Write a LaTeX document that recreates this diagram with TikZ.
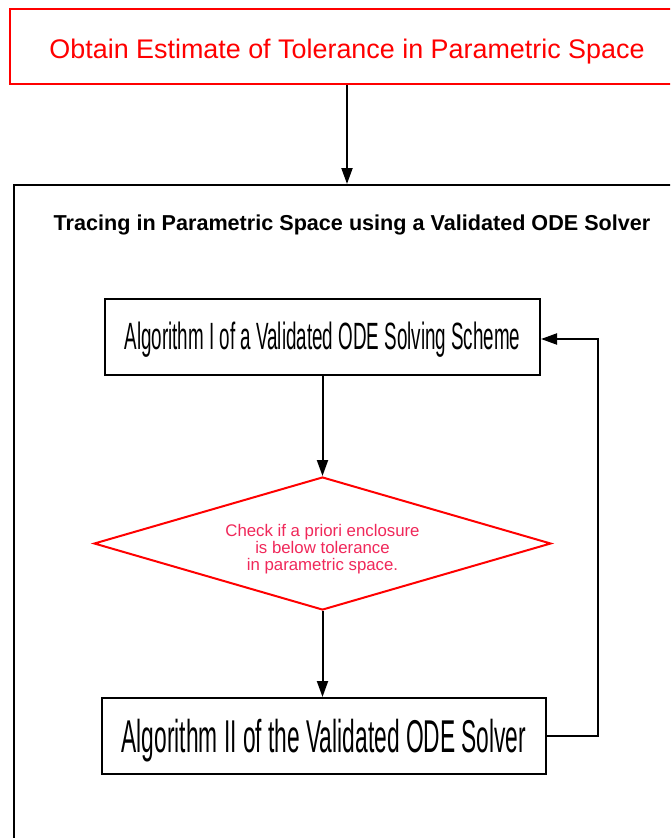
\documentclass[tikz,border=0pt]{standalone}
\usepackage{fontspec}
\setmainfont{Liberation Sans}
\newfontfamily\narrowfont[FakeStretch=0.495]{Liberation Sans}
\usetikzlibrary{
  arrows.meta,
  positioning,
  shapes.geometric
}
\definecolor{checkred}{RGB}{240,40,90}
\tikzset{
  >={Triangle[length=16pt,width=11pt]},
  flow/.style = {->, line width=2pt},
  taskbox/.style = {draw, rectangle, line width=2pt, inner sep=0pt},
  checkdiamond/.style = {draw=red, diamond, line width=2pt, inner sep=0pt,
                         aspect=3.4, text=checkred, align=center,
                         font=\fontsize{16.8}{16}\selectfont},
}
\newcommand{\lowtext}[2]{\raisebox{#1}[0pt][0pt]{\begin{tabular}{@{}c@{}}#2\end{tabular}}}

\begin{document}
\begin{tikzpicture}[x=1pt, y=-1pt]
\useasboundingbox (0,0) rectangle (670,838);
\fill[white] (0,0) rectangle (670,838);
\clip (0,0) rectangle (670,838);
% outer part
\node[taskbox, draw=red, text=red, minimum width=674pt, minimum height=75pt,
      font=\fontsize{26.9}{28}\selectfont] (estimate) at (347,46.5)
      {\lowtext{-12.7pt}{Obtain Estimate of Tolerance in Parametric Space}};
\node[taskbox, anchor=north west, minimum width=720pt, minimum height=720pt]
      (tracing) at (13,184) {};
\node[font=\bfseries\fontsize{21.6}{24}\selectfont] (title) at (352,225)
      {Tracing in Parametric Space using a Validated ODE Solver};
% the solver loop
\node[taskbox, minimum width=435pt, minimum height=76pt,
      font=\narrowfont\fontsize{38}{40}\selectfont] (algoI) at (322.5,337)
      {\lowtext{-10.5pt}{Algorithm I of a Validated ODE Solving Scheme}};
\node[checkdiamond, minimum width=457pt, minimum height=133pt] (check) at (322.5,543.5)
      {\lowtext{-11pt}{Check if a priori enclosure\\is below tolerance\\in parametric space.}};
\node[taskbox, minimum width=444pt, minimum height=76pt,
      font=\narrowfont\fontsize{46}{48}\selectfont] (algoII) at (324,736)
      {\lowtext{-13pt}{Algorithm II of the Validated ODE Solver}};

\draw[flow] (estimate.south) -- (estimate.south |- tracing.north);
\draw[flow] (algoI.south) -- (check.north);
\draw[flow] (check.south) -- (check.south |- algoII.north);
\draw[flow] (algoII.east) -- ++(51,0) |- ([yshift=-2pt]algoI.east);
\end{tikzpicture}
\end{document}
